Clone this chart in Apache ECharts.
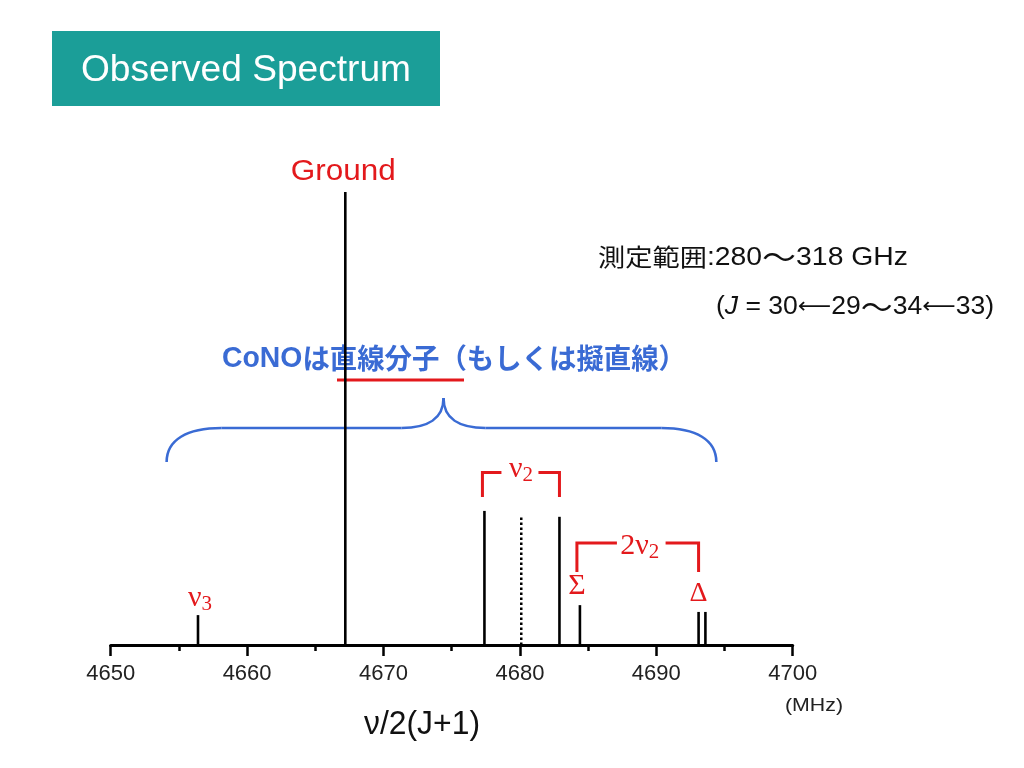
<!DOCTYPE html>
<html><head><meta charset="utf-8">
<script src="https://cdn.jsdelivr.net/npm/echarts@6/dist/echarts.min.js"></script>
<style>html,body{margin:0;padding:0;background:#fff}#c{width:1024px;height:768px}</style>
</head><body><div id="c"></div>
<script>
// ---- data ----
const peakNames = ['ν3', 'Ground', 'ν2 (l)', 'ν2 (u)', 'Σ', 'Δ (a)', 'Δ (b)'];
const peakFreqs = [4656.4, 4667.2, 4677.4, 4682.9, 4684.4, 4693.1, 4693.6];
const peakIntensities = [6.6, 100, 29.6, 28.3, 8.8, 7.3, 7.3];
const dottedFreqs = [4680.1];
const dottedIntensities = [28.5];
const xTicks = [4650, 4660, 4670, 4680, 4690, 4700];

const chart = echarts.init(document.getElementById('c'));
const LAT = '"Liberation Sans", Arial, Helvetica, sans-serif';
const CJK = '"Noto Sans CJK JP", "Liberation Sans", sans-serif';
const SERIF = '"Liberation Serif", "Times New Roman", serif';
const ARR = '"DejaVu Sans", sans-serif';
const RED = '#e3191c';
const BLUE = '#3a6bd4';

function stickItem(params, api, dashed) {
  const p0 = api.coord([api.value(0), 0]);
  const p1 = api.coord([api.value(0), api.value(1)]);
  return {
    type: 'line',
    shape: { x1: p0[0], y1: p0[1], x2: p1[0], y2: p1[1] },
    style: dashed ? { stroke: '#000', lineWidth: 2.5, lineDash: [2.5, 2.5] } : { stroke: '#000', lineWidth: 2.6 }
  };
}

chart.setOption({
  animation: false,
  grid: { left: 110.7, right: 231.3, top: 192, bottom: 123 },
  xAxis: {
    type: 'value', min: xTicks[0], max: xTicks[xTicks.length - 1], interval: 10,
    axisLine: { show: true, onZero: false, lineStyle: { color: '#000', width: 3 } },
    axisTick: { show: true, length: 11, lineStyle: { color: '#000', width: 2.5 } },
    minorTick: { show: true, splitNumber: 2, length: 6, lineStyle: { color: '#000', width: 2.5 } },
    splitLine: { show: false },
    axisLabel: { color: '#222', fontSize: 22, fontFamily: LAT, margin: 18, formatter: v => String(v) }
  },
  yAxis: { type: 'value', min: 0, max: 100, show: false, splitLine: { show: false } },
  series: [
    {
      type: 'custom', name: 'peaks',
      data: peakFreqs.map((f, i) => [f, peakIntensities[i], peakNames[i]]),
      renderItem: (p, api) => stickItem(p, api, false)
    },
    {
      type: 'custom', name: 'center',
      data: dottedFreqs.map((f, i) => [f, dottedIntensities[i]]),
      renderItem: (p, api) => stickItem(p, api, true)
    }
  ]
});

// ---- text helper: rich text fitted to a target width ----
const mctx = document.createElement('canvas').getContext('2d');
function fontStr(p) { return (p.style || 'normal') + ' ' + (p.weight || 'normal') + ' ' + p.size + 'px ' + p.family; }
function fitText(x, y, parts, width, align, color) {
  let w = 0;
  const rich = {};
  let text = '';
  parts.forEach((p, i) => {
    mctx.font = fontStr(p);
    w += mctx.measureText(p.text).width;
    rich['p' + i] = { fontSize: p.size, fontFamily: p.family, fontWeight: p.weight || 'normal', fontStyle: p.style || 'normal',
      fill: p.color || color, verticalAlign: 'middle', lineHeight: 30, padding: [p.dy || 0, 0, 0, 0] };
    text += '{p' + i + '|' + p.text + '}';
  });
  return { type: 'text', x: x, y: y, scaleX: width ? width / w : 1,
    style: { text: text, rich: rich, fill: color, align: align || 'left', verticalAlign: 'middle', textAlign: align || 'left', textVerticalAlign: 'middle' } };
}

function px(x, y) { return chart.convertToPixel({ gridIndex: 0 }, [x, y]); }
const X = f => px(f, 0)[0];

const xv3 = X(peakFreqs[0]);
const xG = X(peakFreqs[1]);
const xv2l = X(peakFreqs[2]) - 2;
const xv2u = X(peakFreqs[3]);
const xS = X(peakFreqs[4]) - 3;
const xD = X(peakFreqs[5]);
const xBL = X(4654.1), xBC = X(4674.4), xBR = X(4694.4);

const redLine = (pts) => ({
  type: 'polyline', shape: { points: pts },
  style: { stroke: RED, lineWidth: 3, fill: null }
});
const braceStyle = { stroke: BLUE, lineWidth: 2.6, fill: null };
const bez = (x1, y1, c1x, c1y, c2x, c2y, x2, y2) => ({
  type: 'bezierCurve',
  shape: { x1: x1, y1: y1, cpx1: c1x, cpy1: c1y, cpx2: c2x, cpy2: c2y, x2: x2, y2: y2 },
  style: braceStyle
});
const sub = (main, s, x, y) => ({
  type: 'text', x: x, y: y, style: {
    text: '{a|' + main + '}{s|' + s + '}', textAlign: 'center', textVerticalAlign: 'middle',
    rich: { a: { fontFamily: SERIF, fontSize: 30, fill: RED }, s: { fontFamily: SERIF, fontSize: 21, fill: RED, padding: [13, 0, 0, 0] } } }
});

const graphics = [
  // title box
  { type: 'rect', shape: { x: 52, y: 31, width: 388, height: 75 }, style: { fill: '#1b9e98' } },
  fitText(246, 71, [{ text: 'Observed Spectrum', size: 36, family: LAT }], 330, 'center', '#ffffff'),
  // Ground label
  fitText(xG - 2, 172, [{ text: 'Ground', size: 30, family: LAT }], 105, 'center', RED),
  // measurement range
  fitText(598, 257, [
    { text: '測定範囲', size: 24, family: CJK },
    { text: ':280', size: 25, family: LAT, dy: 2 },
    { text: '～', size: 30, family: CJK },
    { text: '318 GHz', size: 25, family: LAT, dy: 2 }
  ], 310, 'left', '#111111'),
  fitText(716, 307, [
    { text: '(', size: 25, family: LAT },
    { text: 'J', size: 25, family: LAT, style: 'italic' },
    { text: ' = 30', size: 25, family: LAT },
    { text: '⟵', size: 22, family: ARR },
    { text: '29', size: 25, family: LAT },
    { text: '～', size: 30, family: CJK },
    { text: '34', size: 25, family: LAT },
    { text: '⟵', size: 22, family: ARR },
    { text: '33)', size: 25, family: LAT }
  ], 278, 'left', '#111111'),
  // blue statement
  fitText(222, 358, [
    { text: 'CoNO', size: 29, family: LAT, weight: 'bold', dy: 2 },
    { text: 'は直線分子（もしくは擬直線）', size: 28, family: CJK, weight: 'bold' }
  ], 464, 'left', BLUE),
  { type: 'line', shape: { x1: 337, y1: 380, x2: 464, y2: 380 }, style: { stroke: RED, lineWidth: 3 } },
  // blue brace
  bez(xBL, 462, xBL, 440, xBL + 20, 428, xBL + 55, 428),
  { type: 'line', shape: { x1: xBL + 55, y1: 428, x2: xBC - 42, y2: 428 }, style: braceStyle },
  bez(xBC - 42, 428, xBC - 15, 428, xBC, 418, xBC, 398),
  bez(xBC, 398, xBC, 418, xBC + 15, 428, xBC + 42, 428),
  { type: 'line', shape: { x1: xBC + 42, y1: 428, x2: xBR - 55, y2: 428 }, style: braceStyle },
  bez(xBR - 55, 428, xBR - 20, 428, xBR, 440, xBR, 462),
  // ν2 bracket
  redLine([[xv2l, 497], [xv2l, 472.5], [xv2l + 19, 472.5]]),
  redLine([[xv2u - 21, 472.5], [xv2u, 472.5], [xv2u, 497]]),
  sub('ν', '2', (xv2l + xv2u) / 2, 469),
  // 2ν2 bracket
  redLine([[xS, 572], [xS, 543], [xS + 40, 543]]),
  redLine([[xD - 33, 543], [xD, 543], [xD, 572]]),
  sub('2ν', '2', (xS + xD) / 2 + 2, 546),
  { type: 'text', x: xS, y: 586, style: { text: 'Σ', fill: RED, fontSize: 30, fontFamily: SERIF, textAlign: 'center', textVerticalAlign: 'middle' } },
  { type: 'text', x: xD, y: 594, style: { text: 'Δ', fill: RED, fontSize: 28, fontFamily: SERIF, textAlign: 'center', textVerticalAlign: 'middle' } },
  // ν3 label
  sub('ν', '3', xv3 + 2, 598),
  // axis title and unit
  fitText(422, 725, [{ text: 'ν/2(J+1)', size: 34, family: LAT }], 116, 'center', '#111111'),
  fitText(814, 706, [{ text: '(MHz)', size: 18, family: LAT }], 58, 'center', '#222222')
];
chart.setOption({ graphic: graphics });
</script>
</body></html>
